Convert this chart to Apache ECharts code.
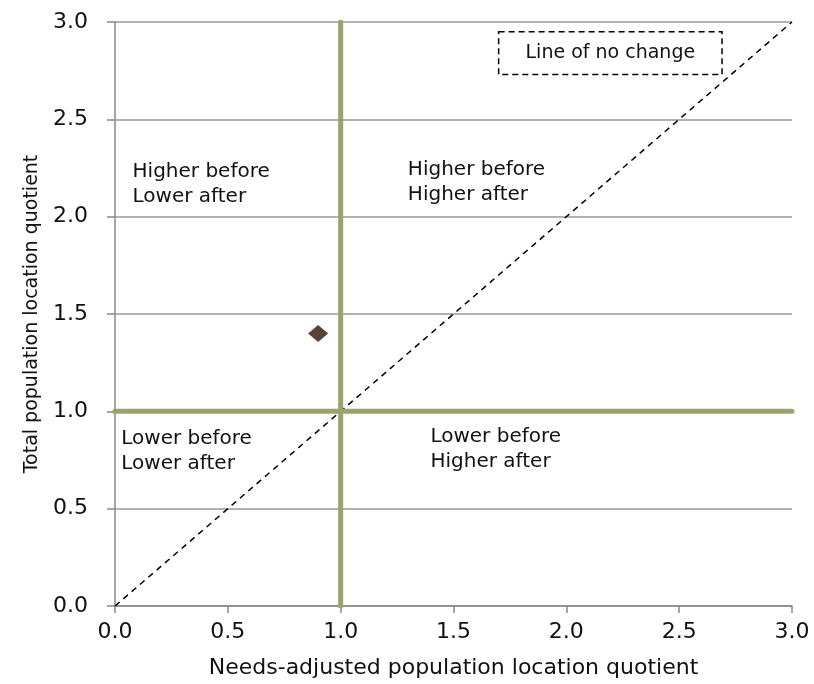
<!DOCTYPE html>
<html>
<head>
<meta charset="utf-8">
<script src="https://cdn.jsdelivr.net/npm/echarts@6/dist/echarts.min.js"></script>
<style>html,body{margin:0;padding:0;background:#fff}#c{width:814px;height:684px}</style>
</head>
<body>
<div id="c"></div>
<script>
// Data
var xTicks = [0.0, 0.5, 1.0, 1.5, 2.0, 2.5, 3.0];
var yTicks = [0.0, 0.5, 1.0, 1.5, 2.0, 2.5, 3.0];
var point = [[0.9, 1.4]];
var noChangeLine = [[0, 0], [3, 3]];
var verticalDivider = [[1, 0], [1, 3]];
var horizontalDivider = [[0, 1], [3, 1]];
var quadrantLabels = [
  {pos: [0.08, 2.29], text: 'Higher before\nLower after'},
  {pos: [1.30, 2.30], text: 'Higher before\nHigher after'},
  {pos: [0.03, 0.92], text: 'Lower before\nLower after'},
  {pos: [1.40, 0.93], text: 'Lower before\nHigher after'}
];
var legendBox = {x0: 1.70, x1: 2.69, y0: 2.73, y1: 2.95, text: 'Line of no change'};

var FONT = 'DejaVu Sans';
var chart = echarts.init(document.getElementById('c'));
chart.setOption({
  animation: false,
  backgroundColor: '#fff',
  grid: {left: 115, right: 22, top: 22, bottom: 77, containLabel: false},
  xAxis: {
    type: 'value', min: 0, max: 3, interval: 0.5,
    name: 'Needs-adjusted population location quotient',
    nameLocation: 'middle', nameGap: 51,
    nameTextStyle: {fontFamily: FONT, fontSize: 22, color: '#111'},
    axisLine: {show: true, lineStyle: {color: '#888', width: 1.5}},
    axisTick: {show: true, length: 7, lineStyle: {color: '#888', width: 1.5}},
    axisLabel: {margin: 15, fontFamily: FONT, fontSize: 22, color: '#111',
      formatter: function (v) { return v.toFixed(1); }},
    splitLine: {show: false}
  },
  yAxis: {
    type: 'value', min: 0, max: 3, interval: 0.5,
    name: 'Total population location quotient',
    nameLocation: 'middle', nameGap: 73,
    nameTextStyle: {fontFamily: FONT, fontSize: 19, color: '#111'},
    axisLine: {show: true, lineStyle: {color: '#888', width: 1.5}},
    axisTick: {show: true, length: 8, lineStyle: {color: '#888', width: 1.5}},
    axisLabel: {margin: 27, fontFamily: FONT, fontSize: 22, color: '#111',
      formatter: function (v) { return v.toFixed(1); }},
    splitLine: {show: true, lineStyle: {color: '#999', width: 1.5}}
  },
  series: [
    {
      type: 'line', data: noChangeLine, symbol: 'none', z: 3,
      lineStyle: {color: '#000', width: 1.5, type: [6, 5]},
      markArea: {
        silent: true,
        itemStyle: {color: '#fff', opacity: 1, borderColor: '#000', borderWidth: 1.5, borderType: [6, 4]},
        label: {show: true, position: 'inside', color: '#111', fontFamily: FONT, fontSize: 19},
        data: [[{name: legendBox.text, coord: [legendBox.x0, legendBox.y1]}, {coord: [legendBox.x1, legendBox.y0]}]]
      }
    },
    {
      type: 'line', data: verticalDivider, symbol: 'none', z: 4,
      lineStyle: {color: '#9AA26E', width: 5, cap: 'round'}
    },
    {
      type: 'line', data: horizontalDivider, symbol: 'none', z: 4,
      lineStyle: {color: '#9AA26E', width: 5, cap: 'round'}
    },
    {
      type: 'scatter', data: point, symbol: 'diamond', symbolSize: [20, 17], z: 5,
      itemStyle: {color: '#5B4239', opacity: 1}
    },
    {
      type: 'scatter', symbolSize: 1, z: 6, silent: true,
      itemStyle: {opacity: 0},
      data: quadrantLabels.map(function (q) { return {value: q.pos, name: q.text}; }),
      label: {
        show: true, position: 'insideTopLeft', distance: 0,
        formatter: function (p) { return p.name; },
        align: 'left', verticalAlign: 'top', opacity: 1,
        color: '#111', fontFamily: FONT, fontSize: 20, lineHeight: 25
      }
    }
  ]
});
</script>
</body>
</html>
